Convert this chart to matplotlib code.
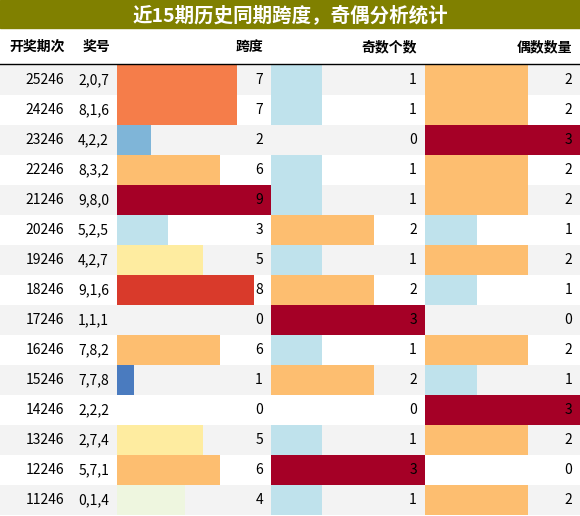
import matplotlib
matplotlib.use("Agg")
import matplotlib.pyplot as plt
from matplotlib.patches import Rectangle

plt.rcParams['font.family'] = ['Noto Sans CJK SC', 'DejaVu Sans']

periods = ["25246", "24246", "23246", "22246", "21246", "20246", "19246", "18246",
           "17246", "16246", "15246", "14246", "13246", "12246", "11246"]
numbers = ["2,0,7", "8,1,6", "4,2,2", "8,3,2", "9,8,0", "5,2,5", "4,2,7", "9,1,6",
           "1,1,1", "7,8,2", "7,7,8", "2,2,2", "2,7,4", "5,7,1", "0,1,4"]
span = [7, 7, 2, 6, 9, 3, 5, 8, 0, 6, 1, 0, 5, 6, 4]
odd = [1, 1, 0, 1, 1, 2, 1, 2, 3, 1, 2, 0, 1, 3, 1]
even = [2, 2, 3, 2, 2, 1, 2, 1, 0, 2, 1, 3, 2, 0, 2]

span_colors = {0: "white", 1: "#4a7bbf", 2: "#7fb5d8", 3: "#bfe2ec", 4: "#eef6df",
               5: "#feeca0", 6: "#fdbe70", 7: "#f57d4a", 8: "#d93a2b", 9: "#a50026"}
cnt_colors = {0: "white", 1: "#bfe2ec", 2: "#fdbe70", 3: "#a50026"}

W, H = 580, 516
fig = plt.figure(figsize=(W / 100, H / 100), dpi=100)
ax = fig.add_axes([0, 0, 1, 1])
ax.set_xlim(0, W)
ax.set_ylim(H, 0)
ax.axis("off")

# title bar
ax.add_patch(Rectangle((0, 0), W, 28, color="#808000"))
ax.text(W / 2, 15, "近15期历史同期跨度，奇偶分析统计", ha="center", va="center",
        color="white", fontsize=14, fontweight="bold")

cols = [0, 72, 117, 271, 425, 580]
hy = 47
ax.text(37, hy, "开奖期次", ha="center", va="center", fontsize=10, fontweight="bold")
ax.text(96, hy, "奖号", ha="center", va="center", fontsize=10, fontweight="bold")
ax.text(cols[3] - 8, hy, "跨度", ha="right", va="center", fontsize=10, fontweight="bold")
ax.text(cols[4] - 8, hy, "奇数个数", ha="right", va="center", fontsize=10, fontweight="bold")
ax.text(cols[5] - 8, hy, "偶数数量", ha="right", va="center", fontsize=10, fontweight="bold")
ax.plot([0, W], [64, 64], color="black", lw=1)

top, rh = 65, 30
for i in range(len(periods)):
    y = top + i * rh
    cy = y + rh / 2
    if i % 2 == 0:
        ax.add_patch(Rectangle((0, y), W, rh, color="#f3f3f3", lw=0))
    for val, vmax, x0, x1, cmap in [(span[i], 9, cols[2], cols[3], span_colors),
                                     (odd[i], 3, cols[3], cols[4], cnt_colors),
                                     (even[i], 3, cols[4], cols[5], cnt_colors)]:
        w = (x1 - x0) * val / vmax
        if val > 0:
            ax.add_patch(Rectangle((x0, y), w, rh, color=cmap[val], lw=0))
        ax.text(x1 - 8, cy, str(val), ha="right", va="center", fontsize=10)
    ax.text(cols[1] - 8, cy, periods[i], ha="right", va="center", fontsize=10)
    ax.text(cols[2] - 8, cy, numbers[i], ha="right", va="center", fontsize=10)

fig.savefig("out.png", dpi=100)
